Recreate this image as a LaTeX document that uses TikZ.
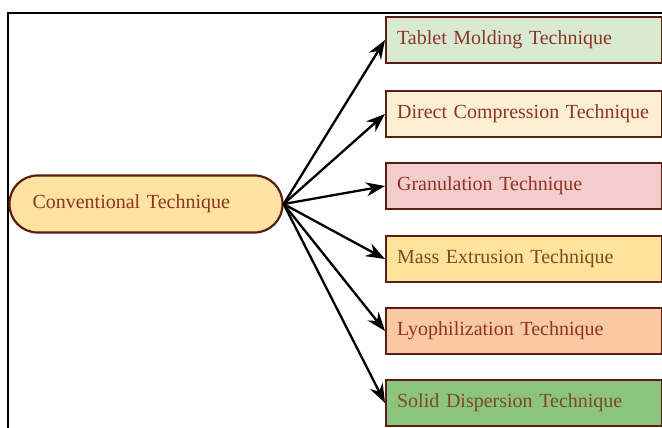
\documentclass[tikz,border=0pt]{standalone}
\usepackage{xcolor}
\usepackage{fontspec}
\setmainfont{Liberation Serif}
\usetikzlibrary{arrows.meta}
\definecolor{edgebrown}{HTML}{5A1E14}
\definecolor{textred}{HTML}{8E3424}
\definecolor{textbrown}{HTML}{7E4A1E}
\definecolor{fillgreen}{HTML}{D9EAD3}
\definecolor{fillcream}{HTML}{FDEFD2}
\definecolor{fillpink}{HTML}{F4CCCC}
\definecolor{fillyellow}{HTML}{FDE39C}
\definecolor{fillorange}{HTML}{F8C9A2}
\definecolor{filldkgreen}{HTML}{8CC47E}
\definecolor{fillpill}{HTML}{FDE2A2}
\begin{document}
\begin{tikzpicture}[x=1pt,y=-1pt,
  tech/.style={draw=edgebrown,line width=2.2pt,minimum height=46pt,text width=254pt,
    inner xsep=11pt,align=left,font=\fontsize{20}{24}\selectfont,text=textred,anchor=west},
  pill/.style={draw=edgebrown,line width=2.2pt,rounded corners=28pt,fill=fillpill,
    minimum width=273pt,minimum height=57pt,text width=227pt,inner xsep=23pt,align=left,
    font=\fontsize{20}{24}\selectfont,text=textred},
  link/.style={-{Stealth[length=19pt,width=14pt]},line width=2.3pt,black}]
\useasboundingbox (0,0) rectangle (662,428);
\begin{scope}
\clip (0,0) rectangle (662,428);
\draw [line width=2.2pt] (8,440) -- (8,13) -- (680,13);
\end{scope}
\node [pill] (conv) at (146,204) {Conventional Technique};
\node [tech,fill=fillgreen] (t1) at (385,40) {Tablet Molding Technique};
\node [tech,fill=fillcream] (t2) at (385,114) {Direct Compression Technique};
\node [tech,fill=fillpink] (t3) at (385,186) {Granulation Technique};
\node [tech,fill=fillyellow,text=textbrown] (t4) at (385,259) {Mass Extrusion Technique};
\node [tech,fill=fillorange] (t5) at (385,331) {Lyophilization Technique};
\node [tech,fill=filldkgreen,text=textbrown] (t6) at (385,403) {Solid Dispersion Technique};
\foreach \n in {t1,t2,t3,t4,t5,t6}
  \draw [link] (conv.east) -- (\n.west);
\end{tikzpicture}
\end{document}
